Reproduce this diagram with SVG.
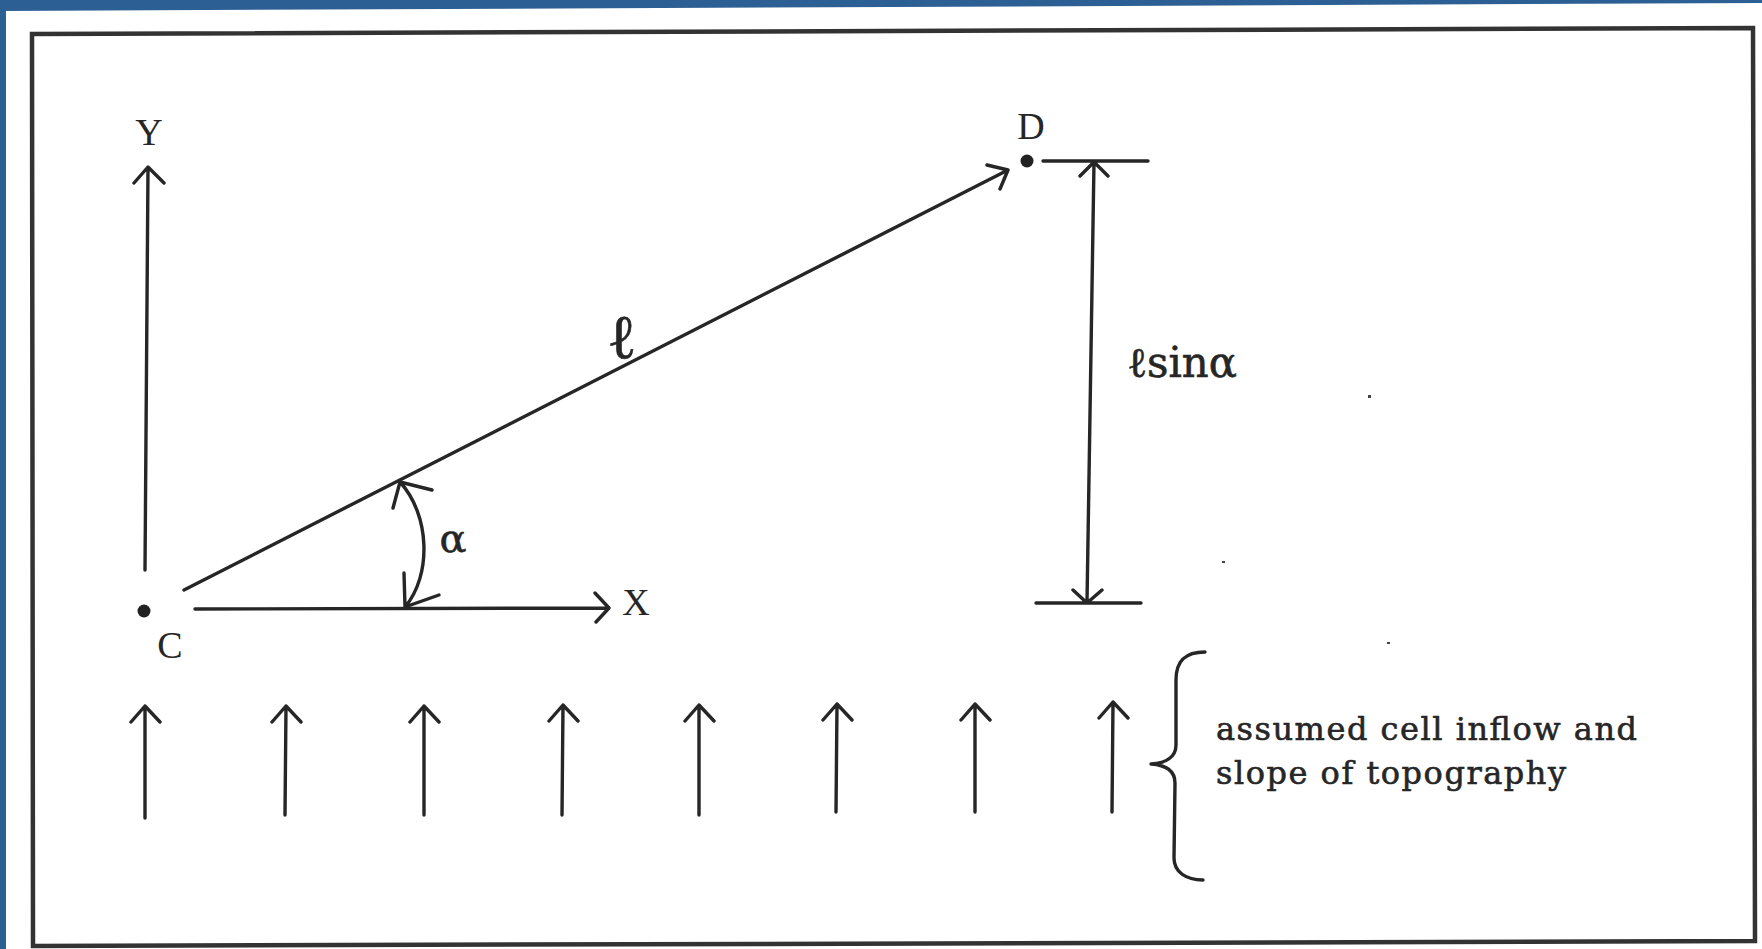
<svg xmlns="http://www.w3.org/2000/svg" width="1762" height="949" viewBox="0 0 1762 949">
<defs>
<style>
.ln{fill:none;stroke:#262626;stroke-width:3.4;stroke-linecap:round;stroke-linejoin:round}
.fr{fill:none;stroke:#333;stroke-width:4.5}
.lbl{font-family:"Liberation Serif","DejaVu Serif",serif;font-size:38px;fill:#262626}
.gr{font-family:"DejaVu Serif","Liberation Serif",serif;fill:#262626;stroke:#262626;stroke-width:0.6}
.note{font-family:"DejaVu Serif","Liberation Serif",serif;font-size:32px;fill:#262626;stroke:#262626;stroke-width:0.6}
.dot{fill:#222}
</style>
</defs>
<rect x="0" y="0" width="1762" height="949" fill="#ffffff"/>
<polygon points="0,0 1762,0 1762,3 0,11" fill="#2c5f93"/>
<rect x="0" y="0" width="6" height="949" fill="#2c5f93"/>
<polygon id="frame" class="fr" points="32,34 1753,28 1755,941 33,946"/>

<g id="point-C">
<circle class="dot" cx="144" cy="611" r="6.5"/>
<text class="lbl" x="170" y="658" text-anchor="middle">C</text>
</g>
<g id="point-D">
<circle class="dot" cx="1027" cy="161" r="6.5"/>
<text class="lbl" x="1031" y="139" text-anchor="middle">D</text>
</g>
<g id="label-Y"><text class="lbl" x="149" y="145" text-anchor="middle">Y</text></g>
<g id="label-X"><text class="lbl" x="636" y="615" text-anchor="middle">X</text></g>
<g id="label-l"><text class="gr" x="622" y="358" text-anchor="middle" font-size="62">ℓ</text></g>
<g id="label-alpha"><text class="gr" x="453" y="552" text-anchor="middle" font-size="40">α</text></g>
<g id="label-lsina"><text class="gr" x="1127" y="377" font-size="42" textLength="110" lengthAdjust="spacingAndGlyphs">ℓsinα</text></g>
<g id="note">
<text class="note" x="1216" y="740" textLength="421" lengthAdjust="spacing">assumed cell inflow and</text>
<text class="note" x="1216" y="784" textLength="350" lengthAdjust="spacing">slope of topography</text>
</g>

<g id="connectors">
<!-- Y axis -->
<path class="ln" d="M145,570 L148,168 M134,183 L148,167 L164,183"/>
<!-- X axis -->
<path class="ln" d="M195,609 L608,608 M595,593 L609,608 L596,622"/>
<!-- C to D line -->
<path class="ln" d="M184,590 L1008,170 M987,165 L1008,170 L1000,189"/>
<!-- alpha arc -->
<path class="ln" d="M400,482 C430,515 432,575 405,607 M393,508 L400,482 L432,490 M404,573 L405,607 L439,595"/>
<!-- l sin alpha dimension -->
<path class="ln" d="M1043,161 L1148,161 M1094,162 L1087,603 M1080,176 L1094,162 L1108,176 M1036,603 L1141,603 M1073,590 L1087,603 L1102,590"/>
<!-- brace -->
<path class="ln" d="M1205,652 C1186,652 1176,660 1176,680 L1176,745 C1176,757 1166,763 1151,764 C1166,765 1175,771 1175,783 L1174,858 C1174,872 1186,880 1203,880"/>
<!-- inflow arrows -->
<path class="ln" d="M145,818 L145,706 M131,722 L145,706 L160,722"/>
<path class="ln" d="M285,815 L286,706 M272,722 L286,706 L301,722"/>
<path class="ln" d="M424,815 L424,706 M410,722 L424,706 L439,722"/>
<path class="ln" d="M562,815 L563,705 M549,721 L563,705 L578,721"/>
<path class="ln" d="M699,815 L699,705 M685,721 L699,705 L714,721"/>
<path class="ln" d="M836,812 L837,704 M823,720 L837,704 L852,720"/>
<path class="ln" d="M975,812 L975,704 M961,720 L975,704 L990,720"/>
<path class="ln" d="M1112,812 L1113,702 M1099,718 L1113,702 L1128,718"/>
</g>
<g id="specks" fill="#444">
<rect x="1368" y="395" width="3" height="3"/>
<rect x="1222" y="561" width="3" height="2"/>
<rect x="1387" y="642" width="3" height="2"/>
</g>
</svg>
